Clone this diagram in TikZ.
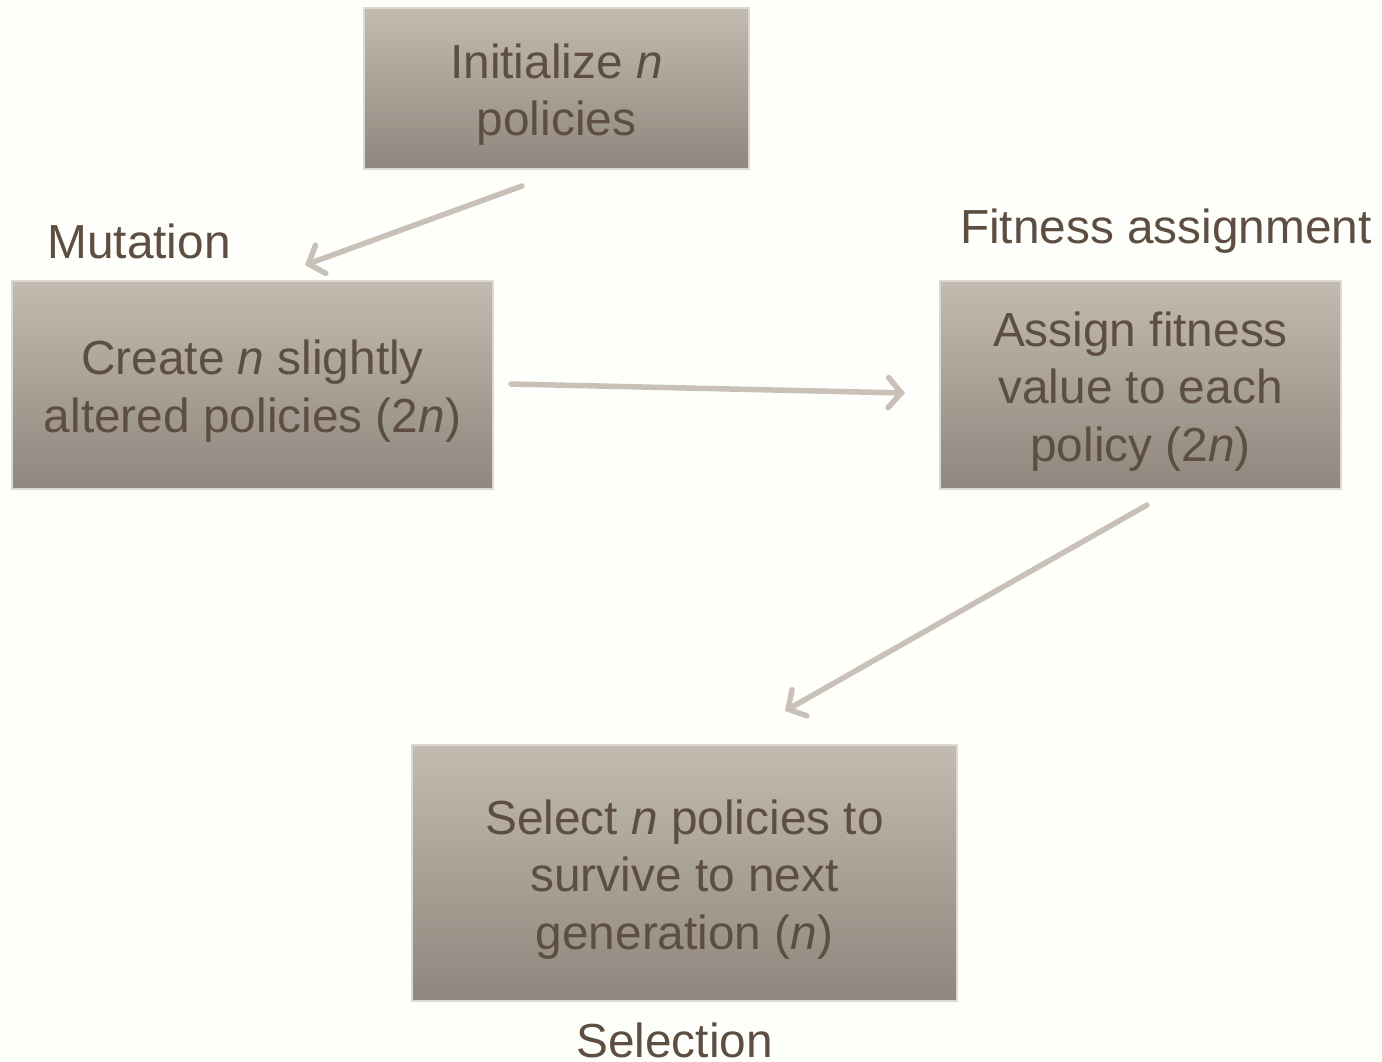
\documentclass[tikz,border=0pt]{standalone}
\usepackage{fontspec}
\setmainfont{Liberation Sans}
\usetikzlibrary{arrows.meta}
\definecolor{bgc}{HTML}{FEFFFB}
\definecolor{txt}{HTML}{5E4E42}
\definecolor{boxtop}{HTML}{C3BBAF}
\definecolor{boxbot}{HTML}{8F877D}
\definecolor{boxedge}{HTML}{DCD8D2}
\definecolor{arrc}{HTML}{C9C1B8}
\newcommand\mystrut{\rule{0pt}{47pt}}
\begin{document}
\begin{tikzpicture}[x=1pt,y=-1pt,
  every node/.style={text=txt, font=\fontsize{47.8}{57.5}\selectfont},
  stepbox/.style={rectangle, draw=boxedge, line width=2pt, top color=boxtop, bottom color=boxbot,
    align=center, inner sep=0pt},
  lbl/.style={inner sep=0pt, anchor=base},
  conn/.style={draw=arrc, line width=5.5pt, line cap=round,
    -{Straight Barb[length=13pt, width=30pt, line width=5.5pt, line cap=round]}}]
\fill[bgc] (0,0) rectangle (1382,1061);
\useasboundingbox (0,0) rectangle (1382,1061);

\node[stepbox, minimum width=385pt, minimum height=161pt] (init) at (556.5,88.5)
  {\mystrut Initialize \textit{n}\\ policies};
\node[stepbox, minimum width=481pt, minimum height=208pt] (mut) at (252.5,385)
  {\mystrut Create \textit{n} slightly\\ altered policies (2\textit{n})};
\node[stepbox, minimum width=401pt, minimum height=208pt] (fit) at (1140.5,385)
  {\mystrut Assign fitness\\ value to each\\ policy (2\textit{n})};
\node[stepbox, minimum width=545pt, minimum height=256pt] (sel) at (684.5,873)
  {\mystrut Select \textit{n} policies to\\ survive to next\\ generation (\textit{n})};

\node[lbl] (lmut) at (139,258) {Mutation};
\node[lbl] (lfit) at (1166,243) {Fitness assignment};
\node[lbl] (lsel) at (674.5,1057) {Selection};

\coordinate (a1s) at (522,186);
\coordinate (a1e) at (305,265);
\coordinate (a2s) at (511,384);
\coordinate (a2e) at (905,393);
\coordinate (a3s) at (1147,505);
\coordinate (a3e) at (785,711);

\draw[conn] (a1s) -- (a1e);
\draw[conn] (a2s) -- (a2e);
\draw[conn] (a3s) -- (a3e);
\end{tikzpicture}
\end{document}
